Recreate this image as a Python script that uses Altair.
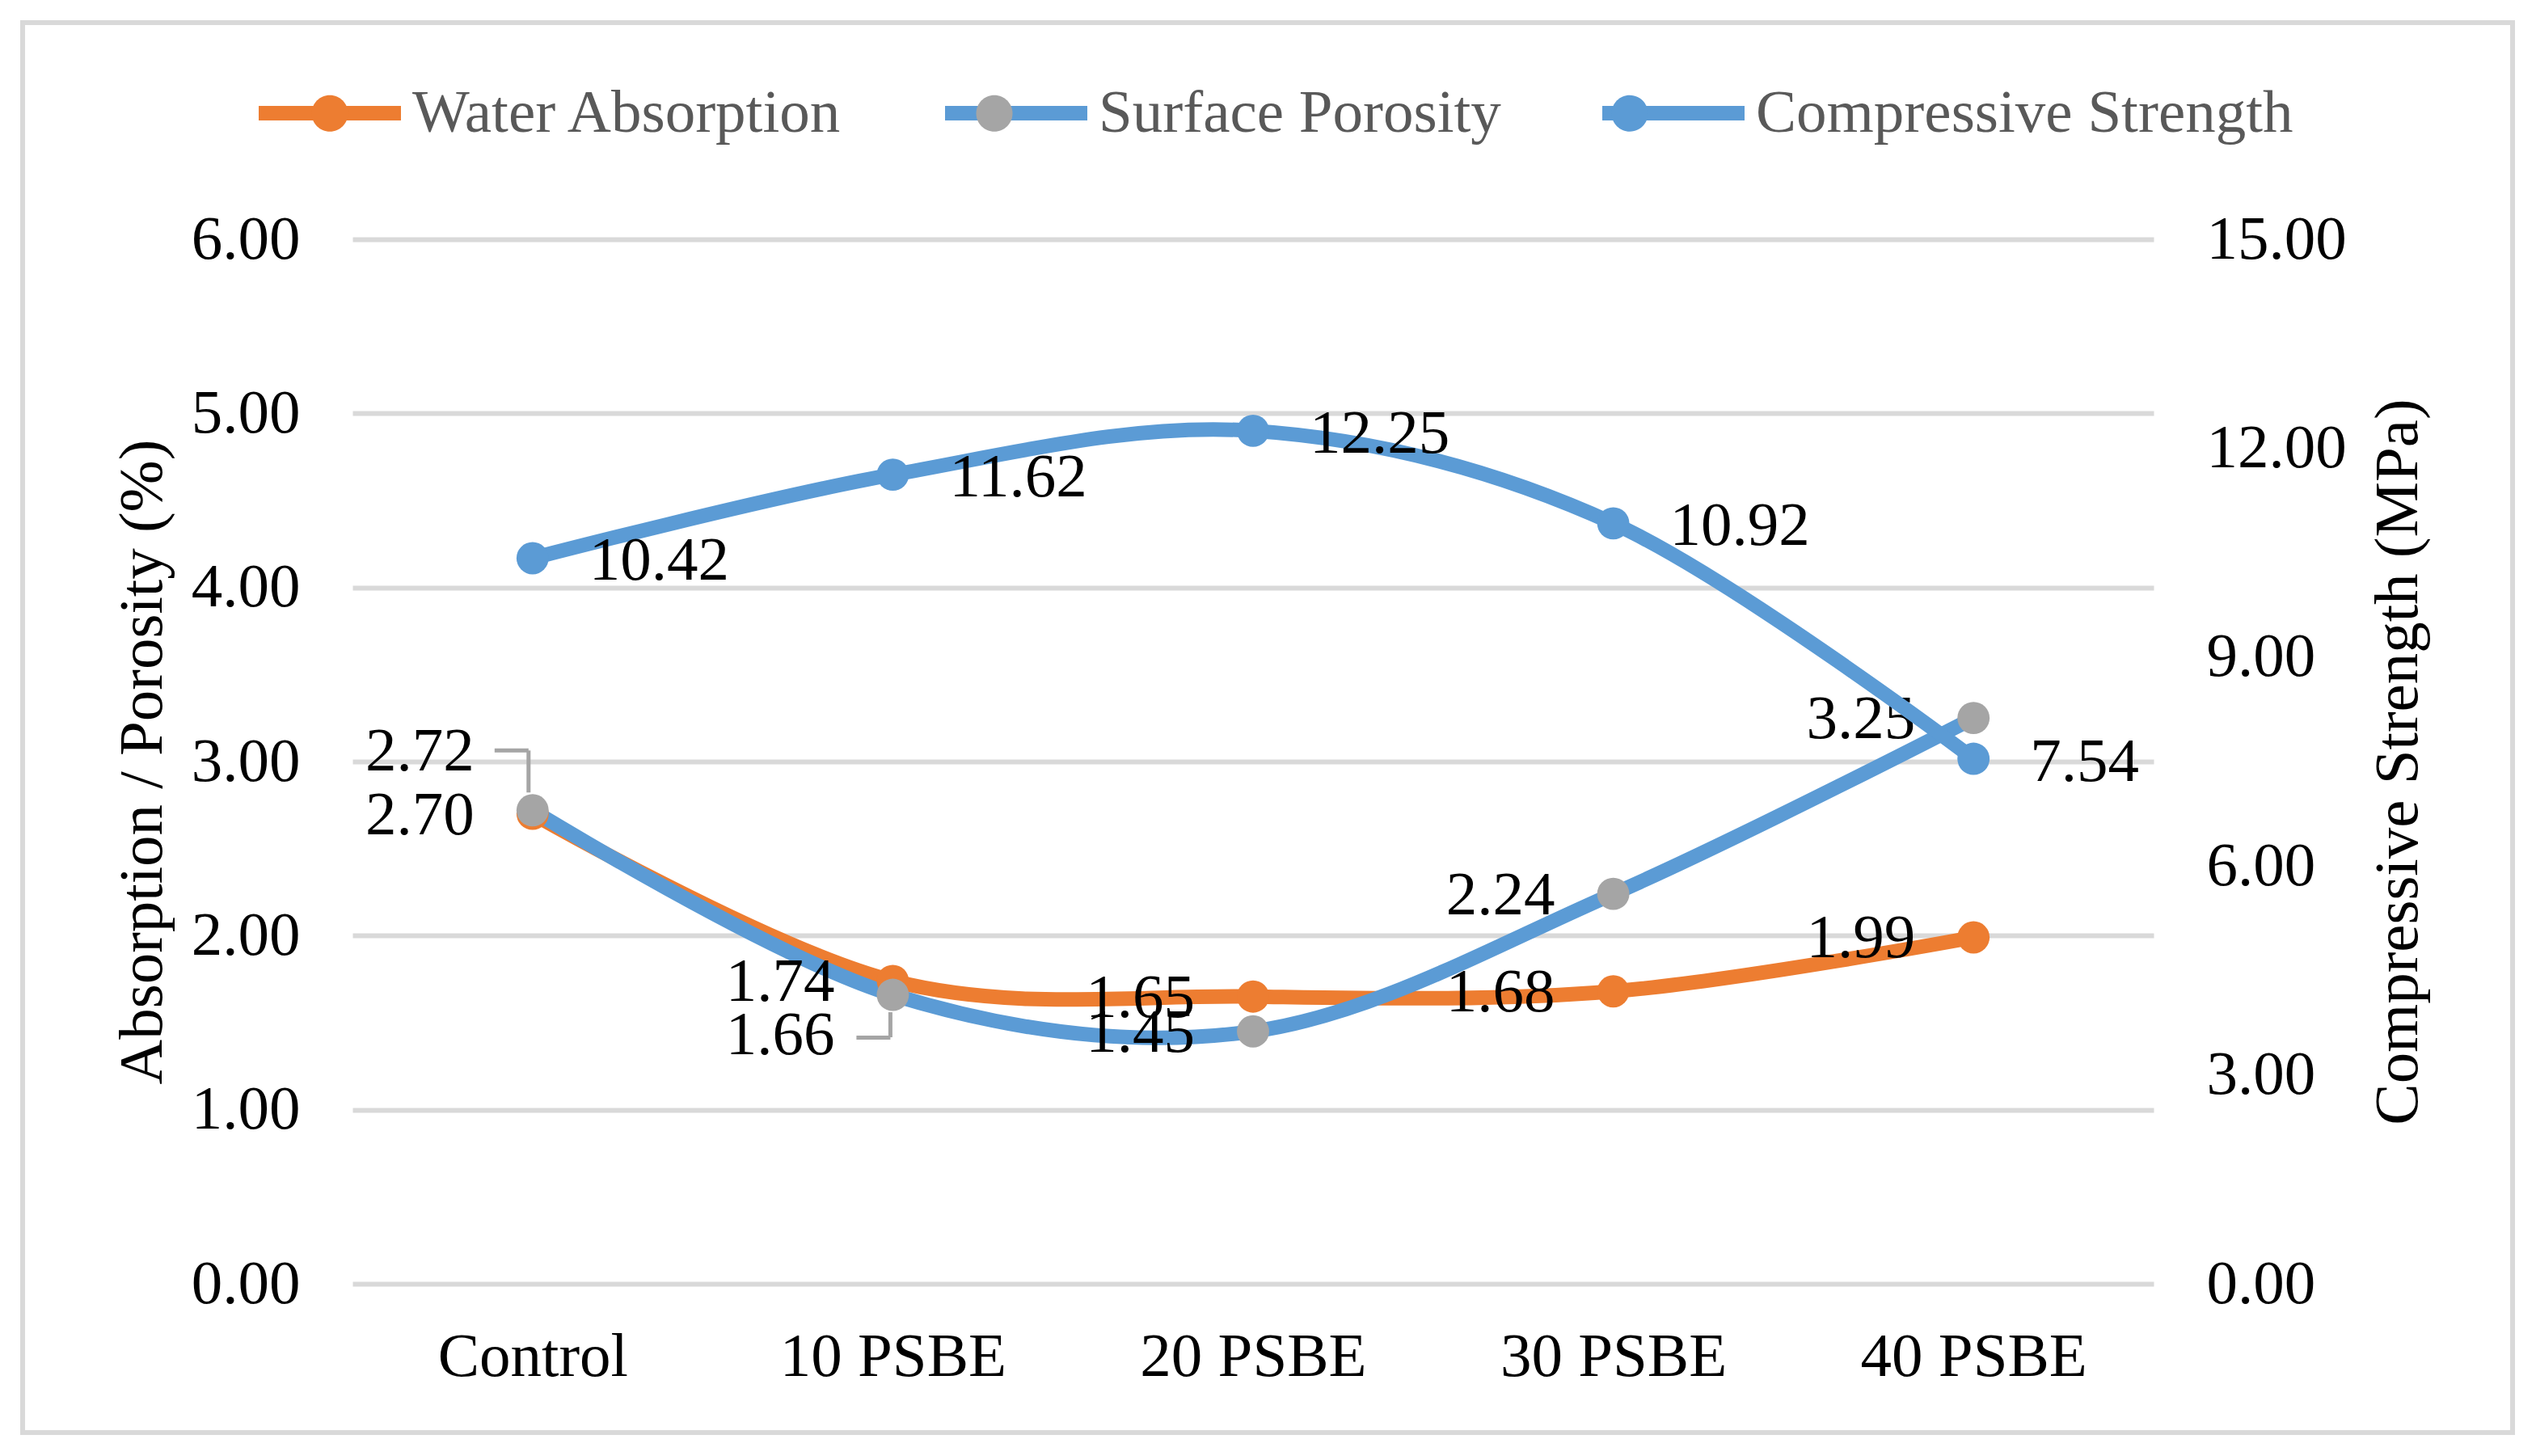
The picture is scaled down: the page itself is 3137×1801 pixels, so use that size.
import altair as alt
import pandas as pd

categories = ["Control", "10 PSBE", "20 PSBE", "30 PSBE", "40 PSBE"]
water_absorption = [2.70, 1.74, 1.65, 1.68, 1.99]
surface_porosity = [2.72, 1.66, 1.45, 2.24, 3.25]
compressive_strength = [10.42, 11.62, 12.25, 10.92, 7.54]

series_names = ["Water Absorption", "Surface Porosity", "Compressive Strength"]
line_colors = ["#ED7D31", "#5B9BD5", "#5B9BD5"]
marker_colors = ["#ED7D31", "#A5A5A5", "#5B9BD5"]

FONT = "Liberation Serif"
FS = 77
GRID = "#D9D9D9"

rows = []
for name, vals in zip(series_names, [water_absorption, surface_porosity, compressive_strength]):
    for c, v in zip(categories, vals):
        rows.append({"cat": c, "series": name, "marker": name, "value": v})
df = pd.DataFrame(rows)
df_left = df[df.series != series_names[2]]
df_right = df[df.series == series_names[2]]

x_enc = alt.X("cat:N", sort=categories, scale=alt.Scale(type="point", padding=0.5),
              axis=alt.Axis(title=None, domain=False, ticks=False, tickSize=0, grid=False,
                            labelAngle=0, labelPadding=113, labelBaseline="alphabetic",
                            labelLimit=1000, labelFont=FONT, labelFontSize=FS, labelColor="black"))

y_left = alt.Y("value:Q", scale=alt.Scale(domain=[0, 6], nice=False),
               axis=alt.Axis(values=[0, 1, 2, 3, 4, 5, 6], format=".2f", grid=True,
                             gridColor=GRID, gridWidth=6, domain=False, ticks=False, tickSize=0,
                             labelPadding=65, labelFont=FONT, labelFontSize=FS, labelColor="black",
                             labelLimit=1000, title="Absorption / Porosity (%)", titleFont=FONT,
                             titleFontSize=FS, titleFontWeight="normal", titleColor="black",
                             titlePadding=21, titleAngle=270, titleBaseline="bottom", titleLimit=2000))

y_right = alt.Y("value:Q", scale=alt.Scale(domain=[0, 15], nice=False),
                axis=alt.Axis(orient="right", values=[0, 3, 6, 9, 12, 15], format=".2f", grid=False,
                              domain=False, ticks=False, tickSize=0, labelPadding=65,
                              labelFont=FONT, labelFontSize=FS, labelColor="black", labelLimit=1000,
                              title="Compressive Strength (MPa)", titleFont=FONT, titleFontSize=FS,
                              titleFontWeight="normal", titleColor="black", titlePadding=64,
                              titleAngle=270, titleBaseline="top", titleLimit=2000))

legend_common = dict(orient="none", legendX=-125, legendY=-253, direction="horizontal",
                     title=None, symbolSize=30976, symbolStrokeWidth=18, labelFont=FONT,
                     labelFontSize=75, labelColor="#595959", labelOffset=5, columnPadding=89,
                     labelLimit=1000, padding=0)

color_enc = alt.Color("series:N", scale=alt.Scale(domain=series_names, range=line_colors),
                      legend=alt.Legend(symbolType="stroke", **legend_common))
fill_enc = alt.Fill("marker:N", sort=series_names, scale=alt.Scale(range=marker_colors),
                    legend=alt.Legend(symbolType="M -0.2557 0 A 0.2557 0.2557 0 1 0 0.2557 0 "
                                                 "A 0.2557 0.2557 0 1 0 -0.2557 0 Z",
                                      symbolStrokeColor="transparent", labelOpacity=0,
                                      **legend_common))

# outer frame
frame = alt.Chart(pd.DataFrame({"f": [0]})).mark_rect(
    fill="transparent", stroke=GRID, strokeWidth=6
).encode(x=alt.value(-408), x2=alt.value(2672), y=alt.value(-268), y2=alt.value(1476))

base_l = alt.Chart(df_left).encode(x=x_enc, y=y_left)
lines_l = base_l.mark_line(interpolate="cardinal", strokeWidth=18).encode(color=color_enc)

sp_ctrl = base_l.transform_filter((alt.datum.series == series_names[1]) & (alt.datum.cat == categories[0]))
sp_10 = base_l.transform_filter((alt.datum.series == series_names[1]) & (alt.datum.cat == categories[1]))
lead_kw = dict(color="#A5A5A5", thickness=5, opacity=1)
leaders = (
    sp_ctrl.mark_tick(orient="horizontal", size=42, xOffset=-26, yOffset=-74, **lead_kw)
    + sp_ctrl.mark_tick(orient="vertical", size=52, xOffset=-5, yOffset=-48, **lead_kw)
    + sp_10.mark_tick(orient="horizontal", size=42, xOffset=-24, yOffset=53, **lead_kw)
    + sp_10.mark_tick(orient="vertical", size=31, xOffset=-3, yOffset=37, **lead_kw)
)

points_l = base_l.mark_circle(size=1590, opacity=1).encode(fill=fill_enc)

txt_kw = dict(font=FONT, fontSize=FS, color="black", baseline="middle")
wa_text = base_l.transform_filter(alt.datum.series == series_names[0]).mark_text(
    align="right", dx=-72, dy=2, **txt_kw).encode(text=alt.Text("value:Q", format=".2f"))
sp_text = base_l.transform_filter(
    (alt.datum.series == series_names[1]) & (alt.datum.cat != categories[0]) & (alt.datum.cat != categories[1])
).mark_text(align="right", dx=-72, dy=2, **txt_kw).encode(text=alt.Text("value:Q", format=".2f"))
sp_text_up = sp_ctrl.mark_text(align="right", dx=-72, dy=-72, **txt_kw).encode(
    text=alt.Text("value:Q", format=".2f"))
sp_text_dn = sp_10.mark_text(align="right", dx=-72, dy=50, **txt_kw).encode(
    text=alt.Text("value:Q", format=".2f"))

left = alt.layer(frame, lines_l, leaders, points_l, wa_text, sp_text, sp_text_up, sp_text_dn)

base_r = alt.Chart(df_right).encode(x=x_enc, y=y_right)
lines_r = base_r.mark_line(interpolate="cardinal", strokeWidth=18).encode(color=color_enc)
points_r = base_r.mark_circle(size=1590, opacity=1).encode(fill=fill_enc)
cs_text = base_r.mark_text(align="left", dx=70, dy=4, **txt_kw).encode(
    text=alt.Text("value:Q", format=".2f"))
right = alt.layer(lines_r, points_r, cs_text)

chart = alt.layer(left, right).resolve_scale(y="independent").properties(
    width=2228, height=1292, padding=17, background="white"
).configure_view(strokeWidth=0)

chart.save("out.html", embed_options={"renderer": "svg", "actions": False})
